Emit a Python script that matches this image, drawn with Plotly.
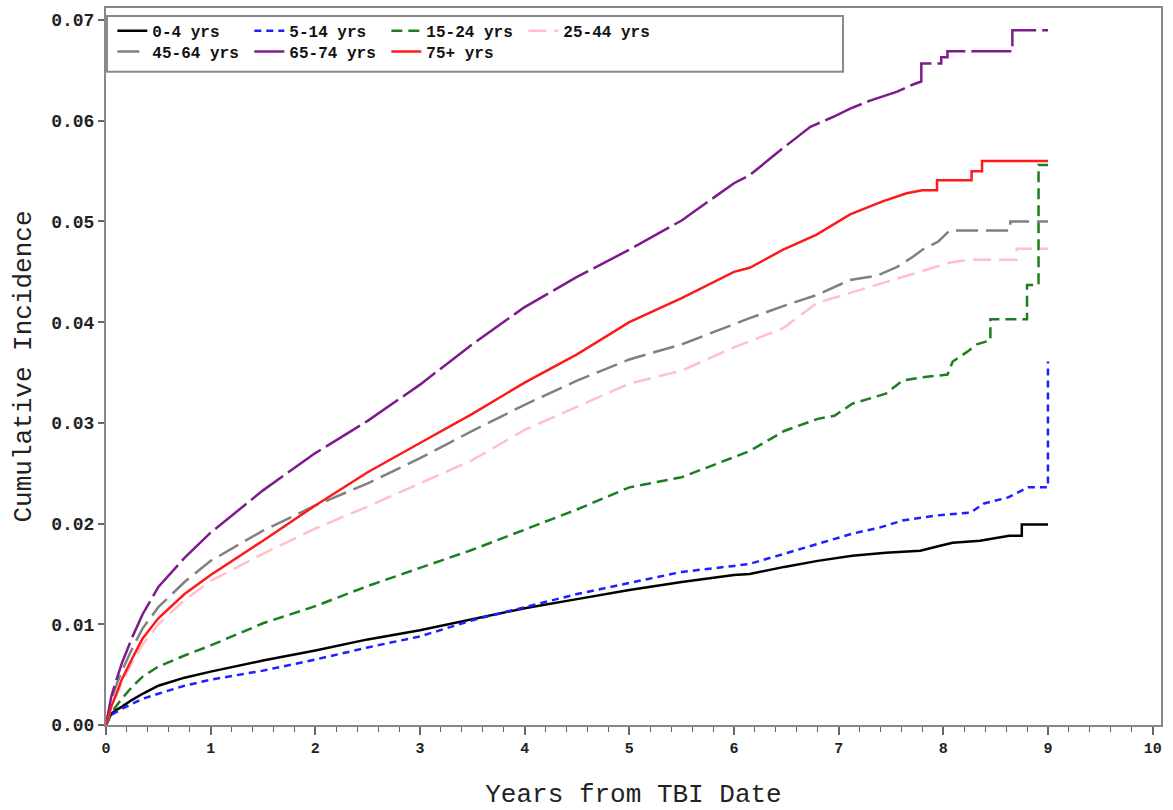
import plotly.graph_objects as go

# ---- data ----
t_0_4 = [0, 0.05, 0.1, 0.15, 0.25, 0.35, 0.5, 0.75, 1, 1.5, 2, 2.5, 3, 3.5, 4, 4.5, 5, 5.5, 6, 6.15,
         6.48, 6.8, 7.13, 7.45, 7.78, 7.97, 8.09, 8.35, 8.63, 8.75, 8.75, 9.0]
y_0_4 = [0, 0.0011, 0.0015, 0.0018, 0.0025, 0.0031, 0.0039, 0.0047, 0.0053, 0.0064, 0.0074, 0.0085,
         0.0094, 0.0105, 0.0116, 0.0125, 0.0134, 0.0142, 0.0149, 0.0150, 0.0157, 0.0163, 0.0168,
         0.0171, 0.0173, 0.0178, 0.0181, 0.0183, 0.0188, 0.0188, 0.0199, 0.0199]

t_5_14 = [0, 0.05, 0.1, 0.15, 0.25, 0.35, 0.5, 0.75, 1, 1.5, 2, 2.5, 3, 3.5, 4, 4.5, 5, 5.5, 6, 6.15,
          6.48, 6.8, 7.13, 7.39, 7.61, 7.93, 8.26, 8.39, 8.62, 8.81, 9.0, 9.0]
y_5_14 = [0, 0.0010, 0.0013, 0.0016, 0.0021, 0.0026, 0.0031, 0.0039, 0.0045, 0.0054, 0.0065, 0.0077,
          0.0088, 0.0104, 0.0117, 0.0130, 0.0141, 0.0152, 0.0158, 0.0160, 0.0170, 0.0180, 0.0190,
          0.0196, 0.0203, 0.0208, 0.0211, 0.0220, 0.0226, 0.0236, 0.0236, 0.0361]

t_15_24 = [0, 0.05, 0.1, 0.15, 0.25, 0.35, 0.5, 0.75, 1, 1.5, 2, 2.5, 3, 3.5, 4, 4.5, 5, 5.5, 6, 6.15,
           6.48, 6.8, 6.96, 7.13, 7.45, 7.61, 7.78, 8.04, 8.09, 8.22, 8.32, 8.45, 8.45, 8.8, 8.8, 8.91,
           8.91, 9.0]
y_15_24 = [0, 0.0012, 0.0019, 0.0026, 0.0038, 0.0048, 0.0058, 0.0069, 0.0079, 0.0101, 0.0118, 0.0138,
           0.0156, 0.0174, 0.0194, 0.0214, 0.0236, 0.0246, 0.0266, 0.0272, 0.0292, 0.0304, 0.0307,
           0.0319, 0.0329, 0.0342, 0.0345, 0.0348, 0.0361, 0.0370, 0.0378, 0.0382, 0.0403, 0.0403,
           0.0437, 0.0437, 0.0556, 0.0556]

t_25_44 = [0, 0.05, 0.1, 0.15, 0.25, 0.35, 0.5, 0.75, 1, 1.5, 2, 2.5, 3, 3.5, 4, 4.5, 5, 5.5, 6, 6.15,
           6.47, 6.79, 7.11, 7.43, 7.75, 8.06, 8.24, 8.7, 8.7, 9.0]
y_25_44 = [0, 0.0018, 0.0030, 0.0042, 0.0062, 0.0080, 0.0100, 0.0124, 0.0143, 0.0170, 0.0195, 0.0217,
           0.0240, 0.0263, 0.0293, 0.0316, 0.0339, 0.0352, 0.0375, 0.0381, 0.0394, 0.0419, 0.0429,
           0.0439, 0.0449, 0.0459, 0.0462, 0.0462, 0.0473, 0.0473]

t_45_64 = [0, 0.05, 0.1, 0.15, 0.25, 0.35, 0.5, 0.75, 1, 1.5, 2, 2.5, 3, 3.5, 4, 4.5, 5, 5.5, 6, 6.15,
           6.47, 6.79, 7.11, 7.36, 7.56, 7.71, 7.8, 7.95, 8.06, 8.64, 8.64, 9.0]
y_45_64 = [0, 0.0025, 0.0040, 0.0053, 0.0076, 0.0096, 0.0117, 0.0142, 0.0163, 0.0193, 0.0218, 0.0240,
           0.0265, 0.0292, 0.0318, 0.0342, 0.0363, 0.0378, 0.0398, 0.0404, 0.0416, 0.0427, 0.0442,
           0.0446, 0.0455, 0.0465, 0.0472, 0.0480, 0.0491, 0.0491, 0.0500, 0.0500]

t_65_74 = [0, 0.05, 0.1, 0.15, 0.25, 0.35, 0.5, 0.75, 1, 1.5, 2, 2.5, 3, 3.5, 4, 4.5, 5, 5.5, 6, 6.15,
           6.47, 6.73, 6.95, 7.11, 7.3, 7.56, 7.71, 7.79, 7.79, 7.98, 7.98, 8.04, 8.04, 8.66, 8.66, 9.0]
y_65_74 = [0, 0.0028, 0.0045, 0.0061, 0.0087, 0.0110, 0.0137, 0.0166, 0.0191, 0.0233, 0.0270, 0.0302,
           0.0338, 0.0378, 0.0415, 0.0445, 0.0472, 0.0501, 0.0538, 0.0546, 0.0573, 0.0594, 0.0604,
           0.0612, 0.0620, 0.0629, 0.0636, 0.0639, 0.0657, 0.0657, 0.0663, 0.0663, 0.0669, 0.0669,
           0.0690, 0.0690]

t_75p = [0, 0.05, 0.1, 0.15, 0.25, 0.35, 0.5, 0.75, 1, 1.5, 2, 2.5, 3, 3.5, 4, 4.5, 5, 5.5, 6, 6.15,
         6.47, 6.79, 7.11, 7.42, 7.65, 7.8, 7.94, 7.94, 8.27, 8.27, 8.37, 8.37, 9.0]
y_75p = [0, 0.0018, 0.0031, 0.0045, 0.0066, 0.0086, 0.0106, 0.0130, 0.0149, 0.0183, 0.0218, 0.0251,
         0.0280, 0.0309, 0.0340, 0.0368, 0.0400, 0.0424, 0.0450, 0.0454, 0.0472, 0.0487, 0.0507,
         0.0520, 0.0528, 0.0531, 0.0531, 0.0541, 0.0541, 0.0550, 0.0550, 0.0560, 0.0560]

labels = ["0-4 yrs", "5-14 yrs", "15-24 yrs", "25-44 yrs", "45-64 yrs", "65-74 yrs", "75+ yrs"]
x_ticks = list(range(0, 11))
y_ticks = [0.00, 0.01, 0.02, 0.03, 0.04, 0.05, 0.06, 0.07]
y_ticktext = ["0.00", "0.01", "0.02", "0.03", "0.04", "0.05", "0.06", "0.07"]

series = [
    (t_0_4, y_0_4, "#000000", "solid", "legend"),
    (t_5_14, y_5_14, "#1f1fff", "7px,5px", "legend"),
    (t_15_24, y_15_24, "#1e7d1e", "11px,6px", "legend"),
    (t_25_44, y_25_44, "#ffc0cb", "18px,8px", "legend"),
    (t_45_64, y_45_64, "#808080", "22px,8px", "legend2"),
    (t_65_74, y_65_74, "#7d1a8c", "40px,6px", "legend2"),
    (t_75p, y_75p, "#ff1a1a", "solid", "legend2"),
]

MONO = "Liberation Mono"

fig = go.Figure()
for (tx, ty, col, dash, leg), name in zip(series, labels):
    assert len(tx) == len(ty), name
    fig.add_trace(go.Scatter(
        x=tx, y=ty, mode="lines", name=name, legend=leg,
        line=dict(color=col, width=2.5, dash=dash),
    ))

legend_common = dict(
    orientation="h", xanchor="left", yanchor="top",
    bgcolor="rgba(0,0,0,0)", borderwidth=0,
    entrywidth=92, entrywidthmode="pixels",
    font=dict(family=MONO, size=16, color="#111", weight="bold"),
    tracegroupgap=0, itemwidth=30,
)

fig.update_layout(
    width=1173, height=810,
    margin=dict(l=106, r=12, t=6, b=85),
    paper_bgcolor="white", plot_bgcolor="white",
    showlegend=True,
    legend=dict(x=0.006, y=0.992, **legend_common),
    legend2=dict(x=0.006, y=0.963, **legend_common),
    xaxis=dict(
        range=[0, 10.08], tickmode="array", tickvals=x_ticks,
        ticks="outside", ticklen=8, tickwidth=1.5, tickcolor="#666",
        showline=True, linecolor="#888", linewidth=2, mirror=True,
        showgrid=False, zeroline=False,
        minor=dict(dtick=0.2, ticks="outside", ticklen=5, tickwidth=1, tickcolor="#666", showgrid=False),
        tickfont=dict(family=MONO, size=15, color="#222", weight="bold"),
        title=dict(text="Years from TBI Date", font=dict(family=MONO, size=26, color="#222"), standoff=28),
    ),
    yaxis=dict(
        range=[0, 0.0712], tickmode="array", tickvals=y_ticks, ticktext=y_ticktext,
        ticks="outside", ticklen=6, tickwidth=1.5, tickcolor="#666",
        showline=True, linecolor="#888", linewidth=2, mirror=True,
        showgrid=False, zeroline=False,
        tickfont=dict(family=MONO, size=18, color="#222", weight="bold"),
        title=dict(text="Cumulative Incidence", font=dict(family=MONO, size=26, color="#222"), standoff=12),
    ),
    shapes=[dict(
        type="rect", xref="paper", yref="paper",
        x0=0.001, x1=0.6986, y0=0.911, y1=0.989,
        line=dict(color="#8a8a8a", width=2), fillcolor="rgba(0,0,0,0)", layer="above",
    )],
)

fig.write_html("out.html")
